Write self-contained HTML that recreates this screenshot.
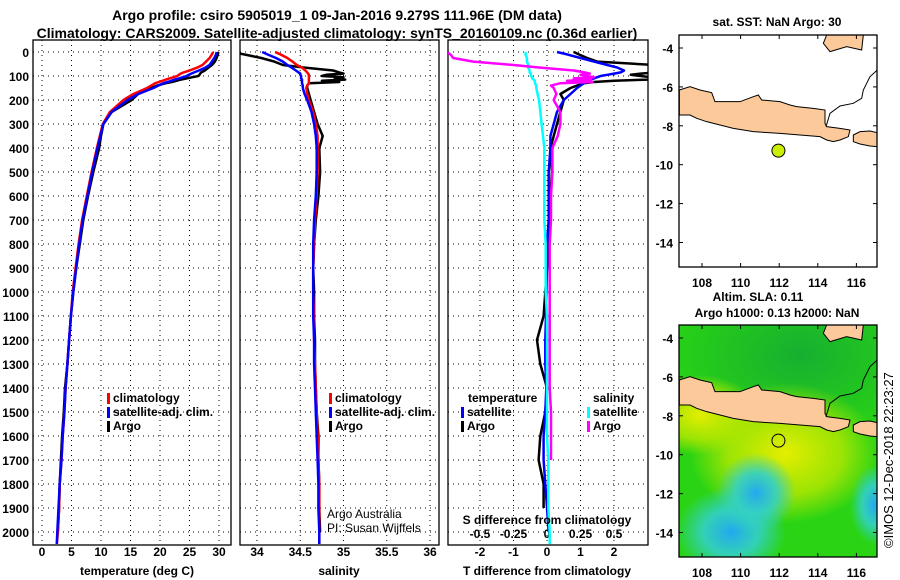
<!DOCTYPE html>
<html><head><meta charset="utf-8"><style>
body{margin:0;background:#fff}
svg{display:block;font-family:"Liberation Sans",Arial,sans-serif}
.t{font-weight:bold;font-size:14px}
.b{font-weight:bold;font-size:12px}
.ax{fill:none;stroke:#000;stroke-width:1.3}
.g{stroke:#000;stroke-width:1;stroke-dasharray:1,4}
</style></head><body>
<svg id="s" width="900" height="580" viewBox="0 0 900 580">
<defs>
<clipPath id="c1"><rect x="33" y="40" width="198" height="505"/></clipPath>
<clipPath id="c2"><rect x="240" y="40" width="199" height="505"/></clipPath>
<clipPath id="c3"><rect x="448" y="40" width="200" height="505"/></clipPath>
<clipPath id="cm1"><rect x="679" y="35" width="198" height="232"/></clipPath>
<clipPath id="cm2"><rect x="679" y="325" width="198" height="232"/></clipPath>
<radialGradient id="gy" cx="0.5" cy="0.5" r="0.5"><stop offset="0" stop-color="#e6ee00"/><stop offset="0.6" stop-color="#b8e800" stop-opacity="0.8"/><stop offset="1" stop-color="#b8e800" stop-opacity="0"/></radialGradient>
<radialGradient id="gc" cx="0.5" cy="0.5" r="0.5"><stop offset="0" stop-color="#22a8f0"/><stop offset="0.5" stop-color="#33d0c8" stop-opacity="0.9"/><stop offset="1" stop-color="#33d0c8" stop-opacity="0"/></radialGradient>
<radialGradient id="gd" cx="0.5" cy="0.5" r="0.5"><stop offset="0" stop-color="#16b030"/><stop offset="1" stop-color="#16b030" stop-opacity="0"/></radialGradient>
</defs>
<text class="t" x="337" y="20" text-anchor="middle">Argo profile: csiro 5905019_1 09-Jan-2016 9.279S 111.96E (DM data)</text>
<text class="t" x="337" y="38" text-anchor="middle">Climatology: CARS2009. Satellite-adjusted climatology: synTS_20160109.nc (0.36d earlier)</text>
<g id="p1"></g>
<g id="p2"></g>
<g id="p3"></g>
<g id="m1"></g>
<g id="m2"></g>
<text x="893" y="548" font-size="13" transform="rotate(-90 893 548)">©IMOS 12-Dec-2018 22:23:27</text>
</svg>
<script>
const depths=[0,10,25,40,54,65,77,85,90,95,100,105,110,115,120,125,130,140,150,175,200,250,300,350,400,500,600,700,800,900,1000,1100,1200,1300,1400,1500,1600,1700,1800,1900,2000,2050];
const tempArgo=[29.9,29.8,29.6,29.3,28.8,28.2,27.6,27.0,26.8,26.7,26.5,25.5,24.5,23.5,22.8,22,21,19.5,18.5,16.3,15.2,11.8,10.4,10,9.7,8.7,7.8,7.0,6.4,5.8,5.3,4.9,4.6,4.3,3.9,3.7,3.4,3.2,3.0,2.9,2.7,null];
const tempClim=[29,28.8,28.4,27.8,27.2,26.3,25.0,24.0,23.5,23.2,22.9,22.3,21.6,21.0,20.4,19.8,19.2,18.5,17.8,15.5,13.8,11.5,10.3,9.8,9.3,8.4,7.6,6.8,6.2,5.7,5.2,4.9,4.6,4.3,4.0,3.8,3.5,3.3,3.0,2.9,2.7,2.5];
const tempSat=[29.6,29.5,29.2,28.8,28.4,27.7,26.6,25.8,25.3,24.9,24.5,23.9,23.2,22.5,21.9,21.3,20.6,19.7,18.9,16.3,14.5,11.8,10.4,9.9,9.4,8.5,7.7,6.9,6.3,5.8,5.3,4.9,4.6,4.3,4.0,3.8,3.5,3.3,3.0,2.8,2.6,2.5];
const salArgo=[33.7,33.85,34.05,34.2,34.3,34.55,34.88,34.95,35.0,34.8,34.75,35.0,34.9,35.02,34.75,34.95,34.6,34.58,34.58,34.6,34.62,34.66,34.7,34.76,34.72,34.73,34.71,34.68,34.66,34.65,34.66,34.66,34.67,34.67,34.68,34.69,34.71,34.71,34.72,34.72,34.73,null];
const salClim=[34.21,34.27,34.35,34.41,34.46,34.52,34.56,34.58,34.59,34.6,34.6,34.6,34.6,34.6,34.6,34.6,34.6,34.58,34.57,34.58,34.6,34.65,34.68,34.7,34.7,34.7,34.69,34.67,34.66,34.65,34.65,34.66,34.66,34.67,34.68,34.69,34.7,34.71,34.72,34.72,34.72,34.72];
const salSat=[34.06,34.12,34.22,34.3,34.35,34.4,34.45,34.48,34.5,34.5,34.51,34.51,34.51,34.52,34.52,34.52,34.52,34.53,34.53,34.55,34.58,34.63,34.66,34.68,34.69,34.69,34.68,34.66,34.65,34.65,34.65,34.65,34.66,34.66,34.67,34.68,34.69,34.7,34.71,34.71,34.72,34.72];
const dTArgo=[0.8,0.95,1.2,1.5,3.2,3.2,3.3,3.2,2.8,2.5,2.8,3.1,3.3,3.0,2.0,1.4,1.1,0.9,0.7,0.4,0.5,0.4,0.3,0.2,0.1,0.15,0.1,0.1,0.05,0,-0.05,-0.1,-0.3,-0.2,0,-0.05,-0.2,-0.25,-0.1,-0.1,null,null];
const dTSat=[0.3,0.6,1.0,1.4,1.8,2.1,2.3,2.2,2.0,1.8,1.6,1.5,1.4,1.3,1.2,1.15,1.1,1.0,0.9,0.7,0.5,0.3,0.2,0.1,0.1,0.05,0.05,0.05,0,0,-0.02,-0.03,-0.05,-0.05,-0.02,-0.05,-0.1,-0.1,-0.05,0,0.05,null];
const dSArgo=[-0.75,-0.72,-0.7,-0.55,-0.25,-0.05,0.2,0.28,0.32,0.25,0.3,0.35,0.2,0.33,0.15,0.34,0.1,0.03,0.05,0.07,0.05,0.1,0.1,0.08,0.04,0.04,0.03,0.03,0.02,0.02,0.02,0.02,0.02,0.02,0.02,0.03,0.03,0.03,null,null,null,null];
const dSSat=[-0.16,-0.16,-0.15,-0.15,-0.14,-0.14,-0.13,-0.13,-0.12,-0.12,-0.12,-0.11,-0.11,-0.1,-0.09,-0.09,-0.09,-0.08,-0.08,-0.07,-0.06,-0.05,-0.04,-0.03,-0.02,-0.02,-0.02,-0.02,-0.01,-0.01,-0.01,0,0,0,0,0,0,0.01,0.01,0.01,0.02,0.02];
const depthTicks=[0,100,200,300,400,500,600,700,800,900,1000,1100,1200,1300,1400,1500,1600,1700,1800,1900,2000];
const tempTicks=[0,5,10,15,20,25,30];
const salTicks=[34,34.5,35,35.5,36];
const salTickLabels=["34","34.5","35","35.5","36"];
const dTTicks=[-2,-1,0,1,2];
const dSTicks=[-0.5,-0.25,0,0.25,0.5];
const dSTickLabels=["-0.5","-0.25","0","0.25","0.5"];
const floatLon=[111.96];
const floatLat=[-9.279];
const lonTicks=[108,110,112,114,116];
const latTicks=[-4,-6,-8,-10,-12,-14];

const NS="http://www.w3.org/2000/svg";
function el(tag,attrs,parent,txt){const e=document.createElementNS(NS,tag);for(const k in attrs)e.setAttribute(k,attrs[k]);if(txt!==undefined)e.textContent=txt;parent.appendChild(e);return e;}
const yD=d=>52+d*0.24;
const xT=t=>42+t*5.9;
const xS=s=>257+(s-34)*86.5;
const xdT=v=>547+v*33.5;
const xdS=v=>547+v*134;
const TOP=40,BOT=545;

function frame(g,x0,x1,xticks,xf,labels,labY){
  for(const d of depthTicks){const l=el('line',{x1:x0,x2:x1,y1:yD(d),y2:yD(d),class:'g'},g);
    
    }
  xticks.forEach((v,i)=>{const x=xf(v);const l=el('line',{x1:x,x2:x,y1:TOP,y2:BOT,class:'g'},g);
    
    
    if(labels){const t=el('text',{x:x,y:labY,'text-anchor':'middle',class:'b'},g,labels[i]);
    
    }});
  const r=el('rect',{x:x0,y:TOP,width:x1-x0,height:BOT-TOP,class:'ax'},g);
  
  
}
function line(g,vals,xf,color,clip,name){
  let segs=[],cur=[];
  vals.forEach((v,i)=>{if(v===null){if(cur.length)segs.push(cur);cur=[];}else cur.push(xf(v).toFixed(1)+','+yD(depths[i]).toFixed(1));});
  if(cur.length)segs.push(cur);
  for(const s of segs){const p=el('polyline',{points:s.join(' '),fill:'none',stroke:color,'stroke-width':2.5,'clip-path':'url(#'+clip+')','stroke-linejoin':'round'},g);
    
    }
}
function legend(g,x,y,items){
  items.forEach((it,i)=>{const yy=y+i*14;
    const r=el('rect',{x:x,y:yy-9,width:3,height:11,fill:it[1]},g);
    
    
    const t=el('text',{x:x+6,y:yy,class:'b'},g,it[0]);
    
    });
}
const p1=document.getElementById('p1');
frame(p1,33,231,tempTicks,xT,tempTicks.map(String),556);
depthTicks.forEach(d=>{const t=el('text',{x:29,y:yD(d)+5,'text-anchor':'end',class:'b'},p1,String(d));
  
  });
line(p1,tempArgo,xT,'#000','c1','argo-temperature-line');
line(p1,tempClim,xT,'#f00','c1','climatology-temperature-line');
line(p1,tempSat,xT,'#00f','c1','satellite-temperature-line');
legend(p1,107,402,[['climatology','#f00'],['satellite-adj. clim.','#00f'],['Argo','#000']]);
let t=el('text',{x:137,y:575,'text-anchor':'middle',class:'b'},p1,'temperature (deg C)');


const p2=document.getElementById('p2');
frame(p2,240,439,salTicks,xS,salTickLabels,556);
line(p2,salArgo,xS,'#000','c2','argo-salinity-line');
line(p2,salClim,xS,'#f00','c2','climatology-salinity-line');
line(p2,salSat,xS,'#00f','c2','satellite-salinity-line');
legend(p2,329,402,[['climatology','#f00'],['satellite-adj. clim.','#00f'],['Argo','#000']]);
t=el('text',{x:339,y:575,'text-anchor':'middle',class:'b'},p2,'salinity');


t=el('text',{x:327,y:518,'font-size':12},p2,'Argo Australia');


t=el('text',{x:327,y:532,'font-size':12},p2,'PI: Susan Wijffels');


const p3=document.getElementById('p3');
frame(p3,448,648,dTTicks,xdT,dTTicks.map(String),556);
dSTicks.forEach((v,i)=>{const t=el('text',{x:xdS(v),y:538,'text-anchor':'middle',class:'b'},p3,dSTickLabels[i]);
  
  });
line(p3,dTArgo,xdT,'#000','c3','argo-temperature-difference-line');
line(p3,dTSat,xdT,'#00f','c3','satellite-temperature-difference-line');
line(p3,dSSat,xdS,'#0ff','c3','satellite-salinity-difference-line');
line(p3,dSArgo,xdS,'#f0f','c3','argo-salinity-difference-line');
t=el('text',{x:468,y:402,class:'b'},p3,'temperature');


t=el('text',{x:593,y:402,class:'b'},p3,'salinity');


legend(p3,461,416,[['satellite','#00f'],['Argo','#000']]);
legend(p3,587,416,[['satellite','#0ff'],['Argo','#f0f']]);
t=el('text',{x:547,y:524,'text-anchor':'middle',class:'b'},p3,'S difference from climatology');


t=el('text',{x:547,y:575,'text-anchor':'middle',class:'b'},p3,'T difference from climatology');



const java="118,270 150,260 180,270 215,278 225,305 300,305 340,290 355,285 365,300 420,305 450,315 470,320 520,325 555,330 555,370 560,380 600,385 630,390 625,410 600,420 580,425 560,420 540,410 480,405 420,400 340,395 280,385 240,375 200,365 170,355 150,345 118,345";
const bali="640,405 660,395 690,393 712,398 712,440 690,438 660,432 640,425";
const borneo="560,105 670,105 665,150 620,140 570,155 550,130";
const coast2="712,210 690,230 670,270 665,295 640,310 600,318 570,340 558,380";
function map(id,oy,clip,title,fill,dotColor){
  const g=document.getElementById(id);
  const lx=v=>702+(v-108)*19.3, ly=v=>(oy+13)+(-4-v)*19.45;
  if(fill){
    const r=el('rect',{x:679,y:oy,width:198,height:232,fill:'#2ad414'},g);
    
    
    const blobs=[['gd',800,oy+30,140,90],['gy',785,oy+128,95,70],['gy',700,oy+90,60,40],['gc',731,oy+207,55,45],['gc',756,oy+168,40,40],['gc',875,oy+180,25,40]];
    for(const b of blobs){const e=el('ellipse',{cx:b[1],cy:b[2],rx:b[3],ry:b[4],fill:'url(#'+b[0]+')','clip-path':'url(#'+clip+')'},g);
      
      }
  }
  const cg=el('g',{'clip-path':'url(#'+clip+')'},g);
  const lg=el('g',{transform:'translate(640,'+(oy-35)+') scale(0.33333)'},cg);
  for(const pts of [java,bali,borneo]){const p=el('polygon',{points:pts,fill:'#fbc99a',stroke:'#000','stroke-width':3},lg);
    
    }
  const c=el('polyline',{points:coast2,fill:'none',stroke:'#000','stroke-width':3},lg);
  
  
  const d=el('circle',{cx:lx(floatLon[0]),cy:ly(floatLat[0]),r:6.5,fill:dotColor,stroke:'#000','stroke-width':1},g);
  
  
  const f=el('rect',{x:679,y:oy,width:198,height:232,class:'ax'},g);
  
  
  lonTicks.forEach(v=>{const x=lx(v);
    el('line',{x1:x,x2:x,y1:oy,y2:oy+4,stroke:'#000'},g);
    el('line',{x1:x,x2:x,y1:oy+232,y2:oy+228,stroke:'#000'},g);
    const t=el('text',{x:x,y:oy+252,'text-anchor':'middle',class:'b'},g,String(v));
    
    });
  latTicks.forEach(v=>{const y=ly(v);
    el('line',{x1:679,x2:683,y1:y,y2:y,stroke:'#000'},g);
    el('line',{x1:877,x2:873,y1:y,y2:y,stroke:'#000'},g);
    const t=el('text',{x:673,y:y+5,'text-anchor':'end',class:'b'},g,String(v));
    
    });
  title.forEach((s,i)=>{const t=el('text',{x:s[1],y:s[2],'text-anchor':'middle',class:'b'},g,s[0]);
    
    });
}
map('m1',35,'cm1',[['sat. SST: NaN Argo: 30',777,26]],false,'#ccee00');
map('m2',325,'cm2',[['Altim. SLA: 0.11',758,301],['Argo h1000: 0.13 h2000: NaN',777,317]],true,'none');
</script>
</body></html>
